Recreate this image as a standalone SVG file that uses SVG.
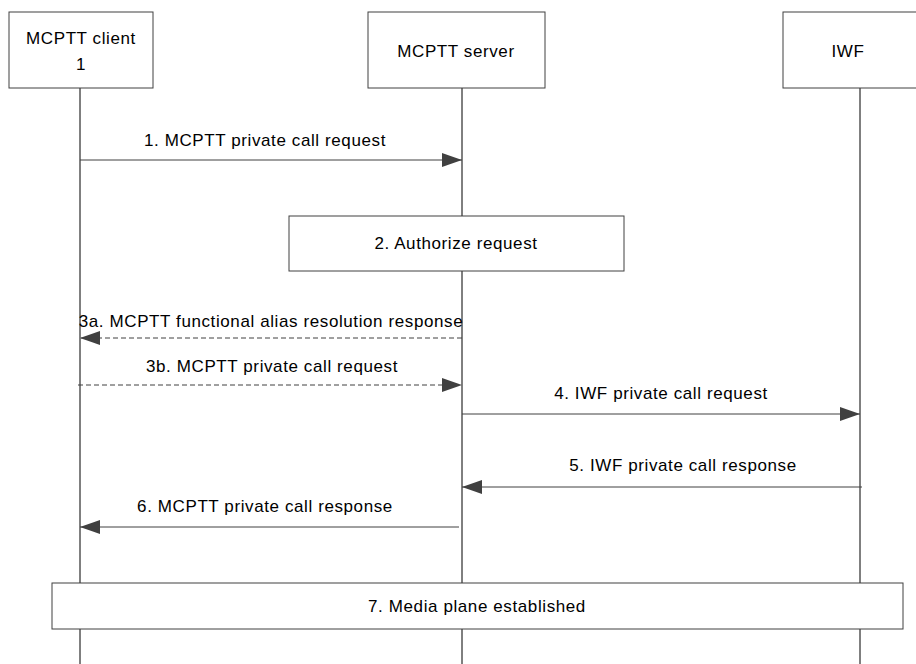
<svg xmlns="http://www.w3.org/2000/svg" width="916" height="664" viewBox="0 0 916 664">
<style>
.box{fill:#fff;stroke:#404040;stroke-width:1}
.life{stroke:#000;stroke-width:1}
.msg{stroke:#404040;stroke-width:1;fill:none}
.dash{stroke-dasharray:5,3}
text{font-family:"Liberation Sans",Arial,sans-serif;font-size:17px;letter-spacing:0.6px;fill:#000;text-anchor:middle}
</style>
<defs>
<marker id="ah" markerWidth="20" markerHeight="14" refX="20" refY="7" orient="auto" markerUnits="userSpaceOnUse">
<path d="M0,0 L20,7 L0,14 Z" fill="#404040"/>
</marker>
</defs>
<g id="lifelines">
<line class="life" x1="80" y1="88" x2="80" y2="664"/>
<line class="life" x1="462" y1="88" x2="462" y2="664"/>
<line class="life" x1="860" y1="88" x2="860" y2="664"/>
</g>
<g id="client"><rect class="box" x="9" y="12" width="144" height="76"/><text x="81" y="44">MCPTT client</text><text x="81" y="70">1</text></g>
<g id="server"><rect class="box" x="368" y="12" width="177" height="76"/><text x="456" y="57">MCPTT server</text></g>
<g id="iwf"><rect class="box" x="783" y="12" width="140" height="76"/><text x="848" y="57">IWF</text></g>
<g id="step2"><rect class="box" x="289" y="216" width="335" height="55"/><text x="456" y="249">2. Authorize request</text></g>
<g id="step7"><rect class="box" x="52" y="583" width="851" height="46"/><text x="477" y="612">7. Media plane established</text></g>
<g id="connectors">
<line class="msg" x1="80" y1="160" x2="462" y2="160" marker-end="url(#ah)"/>
<text x="265" y="146">1. MCPTT private call request</text>
<line class="msg dash" x1="462" y1="338" x2="80" y2="338" marker-end="url(#ah)"/>
<text x="271" y="327">3a. MCPTT functional alias resolution response</text>
<line class="msg dash" x1="78" y1="385" x2="462" y2="385" marker-end="url(#ah)"/>
<text x="272" y="372">3b. MCPTT private call request</text>
<line class="msg" x1="462" y1="414" x2="860" y2="414" marker-end="url(#ah)"/>
<text x="661" y="399">4. IWF private call request</text>
<line class="msg" x1="862" y1="487" x2="462" y2="487" marker-end="url(#ah)"/>
<text x="683" y="471">5. IWF private call response</text>
<line class="msg" x1="459" y1="527" x2="80" y2="527" marker-end="url(#ah)"/>
<text x="265" y="512">6. MCPTT private call response</text>
</g>
</svg>
